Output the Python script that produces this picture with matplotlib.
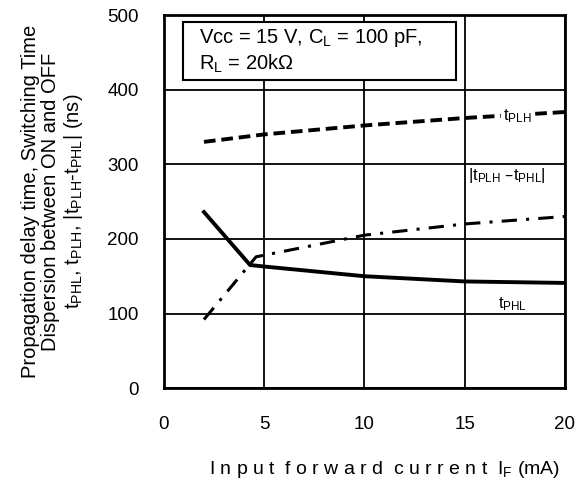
import matplotlib
matplotlib.use("Agg")
import matplotlib.pyplot as plt
from matplotlib.patches import Rectangle

plt.rcParams['font.family'] = ['Liberation Sans', 'DejaVu Sans']
plt.rcParams['mathtext.default'] = 'regular'

# Input forward current IF (mA)
if_plh = [2, 5, 10, 15, 20]
t_plh = [330, 340, 352, 362, 370]

if_phl = [2, 4.3, 5, 10, 15, 20]
t_phl = [236, 165, 163, 150, 143, 141]

if_disp = [2, 4.6, 10, 15, 20]
t_disp = [92, 176, 205, 220, 230]

x_ticks = [0, 5, 10, 15, 20]
y_ticks = [0, 100, 200, 300, 400, 500]

fig = plt.figure(figsize=(5.77, 4.84), dpi=100)
ax = fig.add_axes([0.284, 0.198, 0.695, 0.771])

ax.plot(if_plh, t_plh, color='black', lw=2.8, ls=(0, (3, 1.5)))
ax.plot(if_phl, t_phl, color='black', lw=2.8, ls='-')
ax.plot(if_disp, t_disp, color='black', lw=2.2, ls=(0, (5, 3, 1, 3)))

ax.set_xlim(0, 20)
ax.set_ylim(0, 500)
ax.set_xticks(x_ticks)
ax.set_yticks(y_ticks)
ax.tick_params(length=0, labelsize=13.5)
ax.tick_params(axis='x', pad=20)
ax.tick_params(axis='y', pad=18)
ax.grid(True, color='black', lw=1.3)
for s in ax.spines.values():
    s.set_linewidth(2)

ax.set_xlabel(r'I n p u t  f o r w a r d  c u r r e n t  I$_F$ (mA)', fontsize=14)
ax.xaxis.set_label_coords(0.55, -0.19)
ax.set_ylabel('Propagation delay time, Switching Time\nDispersion between ON and OFF\n'
              r't$_{PHL}$, t$_{PLH}$, |t$_{PLH}$-t$_{PHL}$| (ns)',
              fontsize=14.5, labelpad=16, linespacing=1.1)

# condition box
ax.add_patch(Rectangle((0.95, 413), 13.6, 78, fc='white', ec='black', lw=1.5, zorder=3))
ax.text(1.75, 452, 'Vcc = 15 V, C$_L$ = 100 pF,\nR$_L$ = 20k$\\Omega$', fontsize=14.5,
        va='center', ha='left', linespacing=1.2, zorder=4)

ax.text(17.6, 364, 't$_{PLH}$', fontsize=12, ha='center', va='center',
        bbox=dict(fc='white', ec='none', pad=1))
ax.text(17.1, 285, '|t$_{PLH}$ \u2013t$_{PHL}$|', fontsize=12, ha='center', va='center',
        bbox=dict(fc='white', ec='none', pad=1))
ax.text(17.4, 112, 't$_{PHL}$', fontsize=12, ha='center', va='center')

fig.savefig('out.png', dpi=100, facecolor='white')
